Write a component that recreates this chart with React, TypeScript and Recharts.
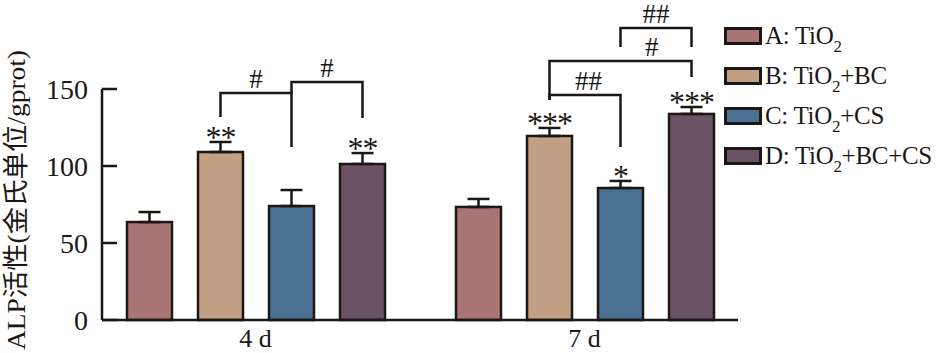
import React from 'react';
import { BarChart, Bar, XAxis, YAxis, ErrorBar } from 'recharts';

const categories = ['4 d', '7 d'];
const seriesA = [63.6, 73.4];
const seriesB = [109.1, 119.5];
const seriesC = [74.0, 85.7];
const seriesD = [101.3, 133.8];
const errorA = [6.5, 5.2];
const errorB = [6.5, 5.2];
const errorC = [10.4, 4.6];
const errorD = [7.1, 4.5];
const starsA = ['', ''];
const starsB = ['**', '***'];
const starsC = ['', '*'];
const starsD = ['**', '***'];
const yTicks = [0, 50, 100, 150];

// # brackets between groups: top = height of the horizontal, fromEnd/toEnd = where each leg stops
const brackets = [
  { cat: 0, from: 'B', to: 'C', top: 147.4, fromEnd: 131.8, toEnd: 112.3, text: '#', at: 0.5 },
  { cat: 0, from: 'C', to: 'D', top: 154.5, fromEnd: 147.4, toEnd: 131.2, text: '#', at: 0.5 },
  { cat: 1, from: 'C', to: 'D', top: 189.6, fromEnd: 177.3, toEnd: 177.3, text: '##', at: 0.5 },
  { cat: 1, from: 'B', to: 'D', top: 168.2, fromEnd: 142.9, toEnd: 157.8, text: '#', at: 0.72 },
  { cat: 1, from: 'B', to: 'C', top: 146.1, fromEnd: 142.9, toEnd: 112.3, text: '##', at: 0.55 },
];

const INK = '#1a1714';
const SERIF = "'Liberation Serif', 'Times New Roman', serif";

const series = [
  { key: 'A', label: 'A: TiO', rest: '', color: '#a97474', values: seriesA, errors: errorA, stars: starsA },
  { key: 'B', label: 'B: TiO', rest: '+BC', color: '#c1a083', values: seriesB, errors: errorB, stars: starsB },
  { key: 'C', label: 'C: TiO', rest: '+CS', color: '#4a7092', values: seriesC, errors: errorC, stars: starsC },
  { key: 'D', label: 'D: TiO', rest: '+BC+CS', color: '#6b5265', values: seriesD, errors: errorD, stars: starsD },
];

const data = categories.map((name, i) => {
  const row: Record<string, unknown> = { name };
  series.forEach((s) => {
    row[s.key] = s.values[i];
    row['err' + s.key] = [0, s.errors[i]];
  });
  return row;
});

// bar centres and y mapping, filled in while the bars draw
const barPos: Record<string, { cx: number; base: number; ppu: number }> = {};

function makeShape(s: (typeof series)[number]) {
  return (props: any) => {
    const { x, y, width, height, index } = props;
    const value = s.values[index];
    const cx = x + width / 2;
    const base = y + height;
    const ppu = height / value;
    barPos[s.key + index] = { cx, base, ppu };
    const toY = (v: number) => base - v * ppu;
    const star = s.stars[index];

    const marks: React.ReactNode[] = [];
    if (star) {
      marks.push(
        <text key="star" x={cx} y={toY(value + s.errors[index]) + 6} textAnchor="middle"
          fontSize={32} fontFamily={SERIF} fill={INK} letterSpacing={-1}>{star}</text>
      );
    }
    if (s.key === 'D') {
      brackets.filter((b) => b.cat === index).forEach((b, j) => {
        const p1 = barPos[b.from + index];
        const p2 = barPos[b.to + index];
        if (!p1 || !p2) return;
        const hy = toY(b.top);
        marks.push(
          <g key={'br' + j}>
            <polyline
              points={`${p1.cx},${toY(b.fromEnd)} ${p1.cx},${hy} ${p2.cx},${hy} ${p2.cx},${toY(b.toEnd)}`}
              fill="none" stroke={INK} strokeWidth={2.5} />
            <text x={p1.cx + (p2.cx - p1.cx) * b.at} y={hy - 5} textAnchor="middle"
              fontSize={27} fontFamily={SERIF} fill={INK}>{b.text}</text>
          </g>
        );
      });
    }
    return (
      <g>
        <rect x={x} y={y} width={width} height={height} fill={s.color} stroke={INK} strokeWidth={2.5} />
        {marks}
      </g>
    );
  };
}

export default function App() {
  return (
    <div style={{ position: 'relative', width: 941, height: 353, background: '#fff' }}>
      <style>{'body{margin:0}'}</style>
      <BarChart
        width={941}
        height={353}
        data={data}
        margin={{ top: 89, right: 203, bottom: 0, left: 42 }}
        barSize={45}
        barGap={26}
      >
        <XAxis
          dataKey="name"
          padding={{ left: -11, right: -11 }}
          height={33}
          axisLine={{ stroke: INK, strokeWidth: 2.5 }}
          tickLine={false}
          tickMargin={3}
          tick={{ fontSize: 26, fill: INK, fontFamily: SERIF }}
        />
        <YAxis
          domain={[0, 150]}
          ticks={yTicks}
          width={60}
          axisLine={{ stroke: INK, strokeWidth: 2.5 }}
          tickLine={{ stroke: INK, strokeWidth: 2.5 }}
          tickSize={-15}
          tickMargin={29}
          tick={{ fontSize: 28, fill: INK, fontFamily: SERIF }}
          label={{
            content: () => (
              <text transform="translate(25,200) rotate(-90)" textAnchor="middle" fontSize={26}
                textLength={300} lengthAdjust="spacingAndGlyphs"
                fontFamily="'Liberation Serif', 'Noto Sans CJK SC', serif" fill={INK}>
                ALP活性(金氏单位/gprot)
              </text>
            ),
          }}
        />
        {series.map((s) => (
          <Bar key={s.key} dataKey={s.key} shape={makeShape(s)} isAnimationActive={false}>
            <ErrorBar dataKey={'err' + s.key} width={11} stroke={INK} strokeWidth={2.5}
              direction="y" isAnimationActive={false} />
          </Bar>
        ))}
      </BarChart>
      <div style={{ position: 'absolute', left: 724, top: 16, fontFamily: SERIF, color: INK }}>
        {series.map((s) => (
          <div key={s.key} style={{ display: 'flex', alignItems: 'center', height: 40 }}>
            <div style={{
              width: 38, height: 18, boxSizing: 'border-box', border: `3px solid ${INK}`,
              background: s.color, marginRight: 3,
            }} />
            <span style={{ fontSize: 25, whiteSpace: 'nowrap', letterSpacing: -0.3 }}>
              {s.label}
              <span style={{ fontSize: 17, position: 'relative', top: 8 }}>2</span>
              {s.rest}
            </span>
          </div>
        ))}
      </div>
    </div>
  );
}
